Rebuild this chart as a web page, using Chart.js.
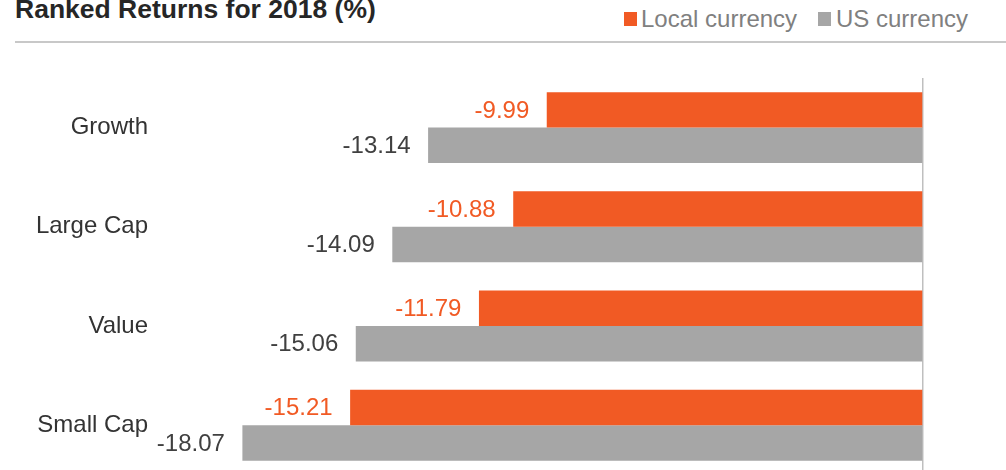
<!DOCTYPE html>
<html>
<head>
<meta charset="utf-8">
<script src="https://cdn.jsdelivr.net/npm/chart.js@4"></script>
<style>
  html, body { margin: 0; padding: 0; width: 1006px; height: 470px; overflow: hidden; background: #fff; font-family: "Liberation Sans", Arial, sans-serif; }
  #title { position: absolute; left: 15px; top: -3.8px; font-size: 26.5px; line-height: 26.5px; font-weight: bold; color: #262626; white-space: nowrap; }
  #rule { position: absolute; left: 15px; top: 41px; width: 991px; height: 2px; background: #c8c8c8; }
  .lg { position: absolute; top: 7px; font-size: 24px; line-height: 24px; color: #808080; white-space: nowrap; }
  .sw { position: absolute; top: 12px; width: 13px; height: 14px; }
  #wrap { position: absolute; left: 0; top: 0; width: 1006px; height: 511px; }
</style>
</head>
<body>
<div id="title">Ranked Returns for 2018 (%)</div>
<div class="sw" style="left:624px;background:#F15A24"></div>
<div class="lg" style="left:641px">Local currency</div>
<div class="sw" style="left:818px;background:#A6A6A6"></div>
<div class="lg" style="left:836px">US currency</div>
<div id="rule"></div>
<div id="wrap"><canvas id="c" width="1006" height="511"></canvas></div>
<script>
const categories = ['Growth', 'Large Cap', 'Value', 'Small Cap'];
const localCurrency = [-9.99, -10.88, -11.79, -15.21];
const usCurrency = [-13.14, -14.09, -15.06, -18.07];
const seriesNames = ['Local currency', 'US currency'];

const valueLabels = {
  id: 'valueLabels',
  afterDatasetsDraw(chart) {
    const ctx = chart.ctx;
    ctx.save();
    ctx.font = '24px "Liberation Sans", Arial, sans-serif';
    ctx.textAlign = 'right';
    ctx.textBaseline = 'middle';
    chart.data.datasets.forEach((ds, i) => {
      const meta = chart.getDatasetMeta(i);
      ctx.fillStyle = ds.labelColor;
      meta.data.forEach((bar, j) => {
        ctx.fillText(ds.data[j].toFixed(2), bar.x - 17.5, bar.y + 1);
      });
    });
    ctx.restore();
  }
};

new Chart(document.getElementById('c'), {
  type: 'bar',
  data: {
    labels: categories,
    datasets: [
      { label: seriesNames[0], data: localCurrency, backgroundColor: '#F15A24', labelColor: '#F15A24',
        categoryPercentage: 0.715, barPercentage: 1.0 },
      { label: seriesNames[1], data: usCurrency, backgroundColor: '#A6A6A6', labelColor: '#404040',
        categoryPercentage: 0.715, barPercentage: 1.0 }
    ]
  },
  options: {
    indexAxis: 'y',
    responsive: false,
    animation: false,
    devicePixelRatio: 1,
    layout: { padding: { top: 78, bottom: 0, left: 0, right: 45.3 } },
    plugins: { legend: { display: false }, title: { display: false }, tooltip: { enabled: false } },
    scales: {
      x: {
        min: -20, max: 1,
        ticks: { display: false, stepSize: 5 },
        border: { display: false },
        grid: {
          drawTicks: false,
          lineWidth: 1.5,
          color: (c) => (c.tick && c.tick.value === 0) ? '#bfbfbf' : 'rgba(0,0,0,0)'
        }
      },
      y: {
        ticks: { color: '#333333', font: { family: '"Liberation Sans", Arial, sans-serif', size: 24 }, padding: 21.7 },
        grid: { display: false, drawTicks: false },
        border: { display: false },
        afterFit: (s) => { s.width = 169.7; }
      }
    }
  },
  plugins: [valueLabels]
});
</script>
</body>
</html>
